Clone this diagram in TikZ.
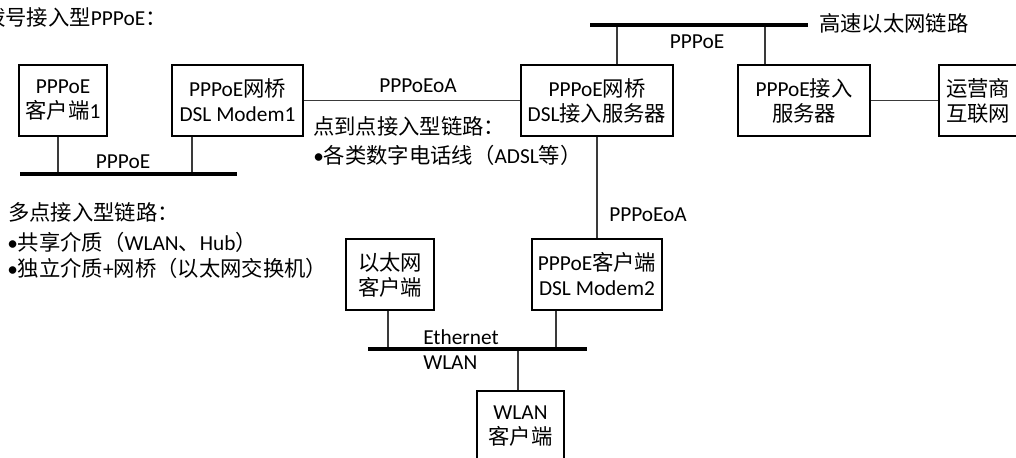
\documentclass[tikz,border=0pt]{standalone}
\usepackage{fontspec}
\setmainfont{Carlito}
\newfontfamily\cjk{Noto Sans CJK SC}
\newcommand\zh[1]{{\cjk #1}}
\definecolor{NetLine}{HTML}{3A3A3A}
\definecolor{NetBus}{HTML}{000000}
\begin{document}
\begin{tikzpicture}[x=0.75pt,y=-0.75pt,font=\fontsize{16}{18.75}\selectfont,
  devbox/.style={draw=black,line width=.8pt,align=center,minimum height=53.25pt,inner sep=1pt},
  link/.style={NetLine,line width=.8pt},
  bus/.style={NetBus,line width=3pt},
  lbl/.style={inner sep=0pt},
  txt/.style={inner sep=0pt,anchor=base west}]
\path[use as bounding box] (0,0) rectangle (1016,457);
\clip (0,0) rectangle (1016,457);
\fill[white] (0,0) rectangle (1016,457);
% devices
\node[devbox,minimum width=66pt] (cli1) at (63,100.5) {PPPoE\\\zh{客户端}1};
\node[devbox,minimum width=98.25pt] (modem1) at (237.5,100.5) {PPPoE\zh{网桥}\\DSL Modem1};
\node[devbox,minimum width=114pt] (dslam) at (597,100.5) {PPPoE\zh{网桥}\\DSL\zh{接入服务器}};
\node[devbox,minimum width=99pt] (bras) at (804,100.5) {PPPoE\zh{接入}\\\zh{服务器}};
\node[devbox,minimum width=58.5pt] (isp) at (978,100.5) {\zh{运营商}\\\zh{互联网}};
\node[devbox,minimum width=97.5pt] (modem2) at (597,274.5) {PPPoE\zh{客户端}\\DSL Modem2};
\node[devbox,minimum width=66pt] (ethcli) at (390,274.5) {\zh{以太网}\\\zh{客户端}};
\node[devbox,minimum width=65.25pt] (wlancli) at (520.5,426.5) {WLAN\\\zh{客户端}};
% buses
\coordinate (bus1w) at (20,174);
\coordinate (bus1e) at (237,174);
\coordinate (tap1a) at (58,174);
\coordinate (tap1b) at (192,174);
\coordinate (bus2w) at (590,25);
\coordinate (bus2e) at (808,25);
\coordinate (tap2a) at (617,25);
\coordinate (tap2b) at (765,25);
\coordinate (bus3w) at (368,349);
\coordinate (bus3e) at (587,349);
\coordinate (tap3a) at (388,349);
\coordinate (tap3b) at (556,349);
\coordinate (tap3c) at (518,349);
\draw[link] (tap1a |- cli1.south) -- (tap1a);
\draw[link] (tap1b |- modem1.south) -- (tap1b);
\draw[link] (tap2a |- dslam.north) -- (tap2a);
\draw[link] (tap2b |- bras.north) -- (tap2b);
\draw[link] (tap3a |- ethcli.south) -- (tap3a);
\draw[link] (tap3b |- modem2.south) -- (tap3b);
\draw[link] (tap3c |- wlancli.north) -- (tap3c);
\draw[bus] (bus1w) -- (bus1e);
\draw[bus] (bus2w) -- (bus2e);
\draw[bus] (bus3w) -- (bus3e);
% point to point links
\draw[link] (modem1) -- (dslam);
\draw[link] (bras) -- (isp);
\draw[link] (dslam) -- (modem2);
% labels
\node[lbl] (lblpppoe1) at (123,162) {PPPoE};
\node[lbl] (lbleoa1) at (418,86) {PPPoEoA};
\node[lbl] (lblpppoe2) at (697,42) {PPPoE};
\node[lbl,anchor=west] (lblhs) at (819,23) {\zh{高速以太网链路}};
\node[lbl] (lbleoa2) at (648,215) {PPPoEoA};
\node[lbl] (lbleth) at (461,337) {Ethernet};
\node[lbl,anchor=west] (lblwlan) at (423,363) {WLAN};
% notes
\node[txt] (title) at (-16,25) {\zh{拨号接入型}PPPoE\zh{：}};
\node[txt] (p2pa) at (313,134) {\zh{点到点接入型链路：}};
\node[txt] (p2pb) at (313,163) {•\zh{各类数字电话线（}ADSL\zh{等）}};
\node[txt] (mpa) at (8,220) {\zh{多点接入型链路：}};
\node[txt] (mpb) at (7,250) {•\zh{共享介质（}WLAN\zh{、}Hub\zh{）}};
\node[txt] (mpc) at (7,276) {•\zh{独立介质}+\zh{网桥（以太网交换机）}};
\end{tikzpicture}
\end{document}
